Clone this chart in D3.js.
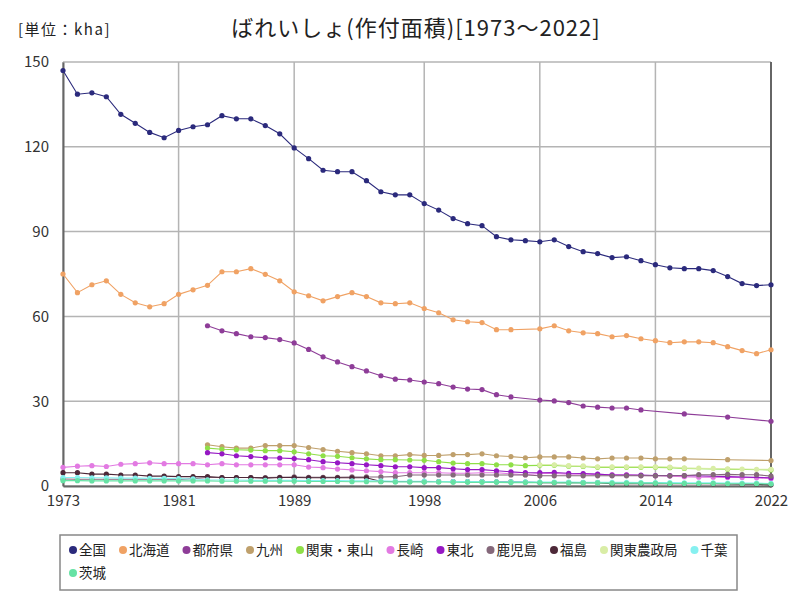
<!DOCTYPE html>
<html><head><meta charset="utf-8">
<script src="https://cdn.jsdelivr.net/npm/d3@7/dist/d3.min.js"></script>
<style>
body{margin:0;background:#fff;}
text{font-family:"Noto Sans CJK JP","Noto Sans",sans-serif;}
</style></head>
<body><svg id="c" width="800" height="600"></svg>
<script>
const years = d3.range(1973, 2023);
const xTickYears = [1973, 1981, 1989, 1998, 2006, 2014, 2022];
const yTicks = [0, 30, 60, 90, 120, 150];
const seriesNames = ["全国","北海道","都府県","九州","関東・東山","長崎","東北","鹿児島","福島","関東農政局","千葉","茨城"];
const seriesColors = ["#2b2a7c","#f0a264","#8e3d98","#bfa06c","#8fdf48","#e27ae2","#9618c4","#84687a","#4d2838","#d9eda6","#86f0f0","#66e2a4"];
const N = null;
const zenkoku = [147.0,138.6,139.1,137.7,131.5,128.3,125.1,123.2,125.8,127.1, 127.8,131.0,129.9,129.9,127.5,124.6,119.6,115.8,111.7,111.2, 111.2,108.0,104.1,103.0,103.0,99.9,97.6,94.6,92.8,92.1, 88.2,87.1,86.8,86.4,87.1,84.7,82.9,82.2,80.8,81.1, 79.7,78.3,77.2,76.9,76.9,76.2,74.1,71.6,70.9,71.2];
const hokkaido = [75.0,68.4,71.2,72.6,67.8,64.8,63.4,64.5,67.8,69.4, 71.0,75.8,75.8,76.9,74.9,72.6,68.7,67.3,65.5,67.0, 68.4,67.0,64.8,64.5,64.8,62.8,61.3,58.8,58.1,57.8, 55.3,55.3,N,55.6,56.7,54.9,54.2,53.9,52.8,53.2, 52.1,51.4,50.7,51.0,51.0,50.7,49.3,47.9,46.8,48.2];
const tofuken = [N,N,N,N,N,N,N,N,N,N, 56.7,54.9,53.9,52.8,52.5,51.8,50.6,48.3,45.7,43.9, 42.2,40.7,39.0,37.8,37.5,36.8,36.2,35.0,34.3,34.1, 32.3,31.5,N,30.4,30.1,29.5,28.3,27.9,27.6,27.6, 26.9,N,N,25.5,N,N,24.4,N,N,22.9];
const kyushu = [N,N,N,N,N,N,N,N,N,N, 14.6,13.9,13.4,13.4,14.3,14.3,14.3,13.6,12.9,12.3, 11.8,11.4,10.7,10.7,11.1,10.8,10.8,11.1,11.1,11.4, 10.7,10.4,10.0,10.3,10.3,10.3,9.9,9.6,9.9,9.9, 9.9,9.6,9.6,9.6,N,N,9.3,N,N,9.0];
const kantoTosan = [N,N,N,N,N,N,N,N,N,N, 13.4,13.0,12.8,12.7,12.5,12.5,12.1,11.4,10.7,10.5, 10.0,9.6,9.3,9.3,9.2,9.1,8.6,8.1,7.9,7.9, 7.5,7.5,7.2,7.3,7.3,7.0,6.9,6.6,6.6,6.6, 6.6,6.6,6.5,6.2,N,N,5.9,N,N,5.7];
const nagasaki = [6.6,7.0,7.2,6.9,7.7,7.9,8.2,7.9,7.9,7.9, 7.5,7.9,7.5,7.5,7.5,7.5,7.5,6.7,6.5,6.0, 5.7,5.4,5.1,4.7,4.7,4.7,4.7,4.5,4.5,4.7, 4.7,4.3,4.0,4.4,4.4,4.2,4.2,4.1,4.0,4.0, 3.7,3.6,3.5,3.3,3.1,3.1,3.0,3.0,2.9,2.6];
const tohoku = [N,N,N,N,N,N,N,N,N,N, 11.8,11.4,10.7,10.4,10.0,9.9,9.7,9.3,8.6,8.2, 7.9,7.5,7.2,6.8,6.8,6.5,6.5,6.1,5.8,5.8, 5.4,5.0,4.7,4.7,4.8,4.5,4.4,4.2,3.9,3.9, 3.9,3.7,3.7,3.7,N,N,3.3,N,N,2.9];
const kagoshima = [2.5,2.4,2.4,2.4,2.4,2.4,2.4,2.4,2.3,2.6, 3.0,3.0,3.0,3.0,3.0,3.1,3.2,3.1,3.1,3.1, 3.2,3.2,3.2,3.3,3.9,3.9,3.9,3.9,3.9,3.9, 3.9,3.9,3.9,3.6,3.6,3.6,3.6,3.6,3.6,3.6, 3.6,3.6,3.6,3.7,4.0,4.0,4.1,4.0,4.0,3.5];
const fukushima = [4.7,4.7,4.2,4.2,3.9,3.9,3.5,3.5,3.3,3.3, 3.3,3.0,3.0,3.0,2.8,3.0,3.0,2.9,2.9,2.9, 2.9,2.9,1.6,1.6,1.6,1.6,1.6,1.6,1.6,1.6, 1.5,1.5,1.4,1.2,1.2,1.2,1.2,1.2,0.8,0.8, 0.8,0.8,0.8,0.8,0.8,0.8,0.7,0.6,0.6,0.4];
const kantoNoseikyoku = [N,N,N,N,N,N,N,N,N,N, N,N,N,N,N,N,N,N,N,N, N,N,N,N,N,N,N,N,N,N, N,N,N,7.5,7.5,7.2,7.1,6.8,6.8,6.8, 6.8,6.8,6.7,6.4,6.3,6.2,6.1,6.0,5.9,5.9];
const chiba = [3.0,3.0,2.9,2.9,2.8,2.8,2.7,2.7,2.6,2.5, 2.2,2.1,2.1,2.0,2.0,2.0,2.0,1.9,1.9,1.9, 1.8,1.8,1.8,1.7,1.7,1.7,1.6,1.6,1.6,1.6, 1.5,1.5,1.5,1.4,1.4,1.4,1.3,1.3,1.3,1.3, 1.2,1.2,1.2,1.1,1.1,1.1,1.0,1.0,1.0,0.9];
const ibaraki = [1.9,1.9,1.8,1.8,1.8,1.8,1.8,1.8,1.8,1.8, 1.8,1.7,1.7,1.7,1.7,1.7,1.7,1.6,1.6,1.6, 1.5,1.5,1.5,1.4,1.4,1.4,1.4,1.3,1.3,1.3, 1.3,1.2,1.2,1.2,1.2,1.1,1.1,1.1,1.0,1.0, 1.0,1.0,0.9,0.9,0.9,0.9,0.8,0.8,0.8,0.7];
const seriesValues = [zenkoku,hokkaido,tofuken,kyushu,kantoTosan,nagasaki,tohoku,kagoshima,fukushima,kantoNoseikyoku,chiba,ibaraki];

const svg = d3.select("#c");
const L = 63, R = 771, T = 62, B = 486;
const x = d3.scaleLinear().domain([1973, 2022]).range([L, R]);
const y = d3.scaleLinear().domain([0, 150]).range([B, T]);

// gridlines
svg.append("g").selectAll("line").data(yTicks).join("line")
  .attr("x1", L).attr("x2", R).attr("y1", d => y(d)).attr("y2", d => y(d))
  .attr("stroke", "#b4b4b4").attr("stroke-width", 1.5);
svg.append("g").selectAll("line").data(xTickYears).join("line")
  .attr("x1", d => x(d)).attr("x2", d => x(d)).attr("y1", T).attr("y2", B)
  .attr("stroke", "#b4b4b4").attr("stroke-width", 1.5);

// axes
const yAxis = svg.append("g").attr("transform", `translate(${L},0)`)
  .call(d3.axisLeft(y).tickValues(yTicks).tickSize(0).tickPadding(14));
yAxis.select(".domain").attr("stroke", "#666").attr("stroke-width", 2);
yAxis.selectAll("text").attr("font-size", 15).attr("fill", "#333").attr("font-family", "'Liberation Sans', Arial, sans-serif");
const xAxis = svg.append("g").attr("transform", `translate(0,${B})`)
  .call(d3.axisBottom(x).tickValues(xTickYears).tickFormat(d3.format("d")).tickSize(0).tickPadding(9));
xAxis.select(".domain").attr("stroke", "#666").attr("stroke-width", 2);
xAxis.selectAll("text").attr("font-size", 15).attr("fill", "#333").attr("font-family", "'Liberation Sans', Arial, sans-serif");
svg.append("line").attr("x1", R).attr("x2", R).attr("y1", T).attr("y2", B).attr("stroke", "#666").attr("stroke-width", 2);

// series
const line = d3.line().x(d => x(d.year)).y(d => y(d.v));
seriesValues.forEach((vals, i) => {
  const pts = years.map((yr, j) => ({year: yr, v: vals[j]})).filter(d => d.v !== null);
  const g = svg.append("g");
  g.append("path").datum(pts).attr("d", line).attr("fill", "none")
    .attr("stroke", seriesColors[i]).attr("stroke-width", 1.1);
  g.selectAll("circle").data(pts).join("circle")
    .attr("cx", d => x(d.year)).attr("cy", d => y(d.v)).attr("r", 2.6)
    .attr("fill", seriesColors[i]);
});

// titles
svg.append("text").attr("x", 18).attr("y", 35).attr("font-size", 15).attr("letter-spacing", 1.5).attr("fill", "#222").text("[単位：kha]");
svg.append("text").attr("x", 416).attr("y", 36).attr("text-anchor", "middle").attr("font-size", 22).attr("letter-spacing", 1).attr("fill", "#222")
  .text("ばれいしょ(作付面積)[1973～2022]");

// legend
const lg = svg.append("g");
lg.append("rect").attr("x", 60).attr("y", 535).attr("width", 677).attr("height", 55)
  .attr("fill", "#fff").attr("stroke", "#888").attr("stroke-width", 1.5);
let lx = 73, ly = 550;
seriesNames.forEach((name, i) => {
  const t = lg.append("text").attr("font-size", 13.5).attr("fill", "#222").text(name);
  const w = t.node().getComputedTextLength();
  if (lx + 6 + w > 735) { lx = 73; ly += 23; }
  lg.append("circle").attr("cx", lx).attr("cy", ly).attr("r", 4).attr("fill", seriesColors[i]);
  t.attr("x", lx + 6).attr("y", ly + 5);
  lx += 6 + w + 17;
});
</script></body></html>
